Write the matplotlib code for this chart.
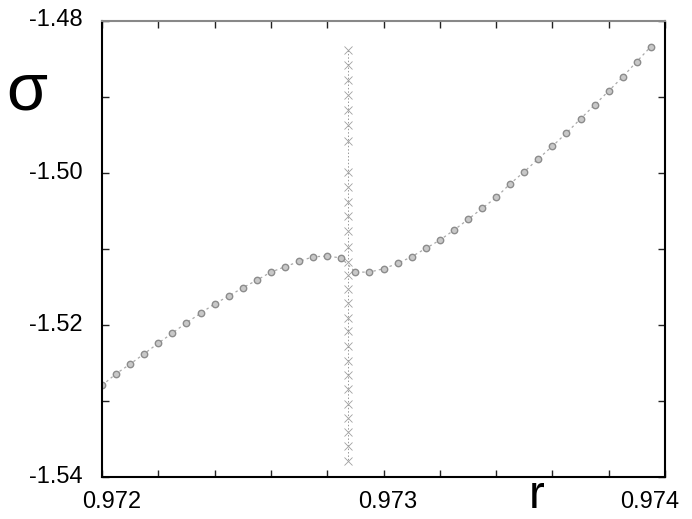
import numpy as np
import matplotlib
matplotlib.use("Agg")
import matplotlib.pyplot as plt
from matplotlib.transforms import ScaledTranslation

plt.rcParams['font.family'] = ['Liberation Sans', 'DejaVu Sans']

# stable branch: r values and sigma
r_circ = [0.97200, 0.97205, 0.97210, 0.97215, 0.97220, 0.97225, 0.97230, 0.97235,
          0.97240, 0.97245, 0.97250, 0.97255, 0.97260, 0.97265, 0.97270, 0.97275,
          0.97280, 0.97285, 0.97290, 0.97295, 0.97300, 0.97305, 0.97310, 0.97315,
          0.97320, 0.97325, 0.97330, 0.97335, 0.97340, 0.97345, 0.97350, 0.97355,
          0.97360, 0.97365, 0.97370, 0.97375, 0.97380, 0.97385, 0.97390, 0.97395]
s_circ = [-1.52796, -1.52643, -1.52516, -1.52380, -1.52241, -1.52109, -1.51972, -1.51850,
          -1.51723, -1.51623, -1.51513, -1.51413, -1.51307, -1.51237, -1.51167, -1.51105,
          -1.51097, -1.51121, -1.51307, -1.51307, -1.51263, -1.51193, -1.51105, -1.50996,
          -1.50887, -1.50756, -1.50615, -1.50470, -1.50326, -1.50146, -1.49988, -1.49817,
          -1.49652, -1.49478, -1.49292, -1.49110, -1.48926, -1.48740, -1.48539, -1.48342]

# vertical branch at fixed r
r_cross = 0.972875
s_cross = [-1.48394, -1.48585, -1.48782, -1.48976, -1.49170, -1.49380, -1.49583,
           -1.49993, -1.50185, -1.50388, -1.50576, -1.50769, -1.50974, -1.51180,
           -1.51351, -1.51535, -1.51719, -1.51909, -1.52087, -1.52280, -1.52474,
           -1.52658, -1.52849, -1.53046, -1.53223, -1.53414, -1.53598, -1.53788]

xticks_lab = [0.972, 0.973, 0.974]
yticks_lab = [-1.48, -1.50, -1.52, -1.54]

fig = plt.figure(figsize=(6.92, 5.19), dpi=100)
ax = fig.add_axes([102/692, 42/519, 563/692, 456.5/519])

ax.plot([r_cross]*len(s_cross), s_cross, linestyle=(0, (1.5, 2)), color='#999999',
        lw=0.7, marker='x', ms=6, mew=0.6, mec='#a0a0a0')
ax.plot(r_circ, s_circ, linestyle=(0, (2, 2.5)), color='#aaaaaa', lw=0.9,
        marker='o', ms=4.6, mew=1.0, mfc='#c8c8c8', mec='#8c8c8c')

ax.set_xlim(0.972, 0.974)
ax.set_ylim(-1.54, -1.48)
ax.set_xticks(np.arange(11) * 0.0002 + 0.972)
ax.set_xticklabels(['' for _ in range(11)])
ax.set_yticks(np.arange(7) * 0.01 - 1.54)
ax.set_yticklabels(['' for _ in range(7)])

ax.tick_params(direction='in', length=5, width=1, top=True, right=True,
               colors='#222222')
for s in ['left', 'bottom', 'right']:
    ax.spines[s].set_linewidth(1.5)
    ax.spines[s].set_color('black')
ax.spines['top'].set_linewidth(1.5)
ax.spines['top'].set_color('#888888')

# tick labels placed with small offsets as in the original
xoffs = [10, 4, -15]
for v, dx in zip(xticks_lab, xoffs):
    t = ax.get_xaxis_transform() + ScaledTranslation(dx/100, 0, fig.dpi_scale_trans)
    ax.text(v, -0.067, f"{v:.3f}", transform=t, ha='center', va='baseline', fontsize=17)
for v in yticks_lab:
    t = ax.get_yaxis_transform()
    ax.text(-0.034, v, f"{v:.2f}", transform=t, ha='right', va='center', fontsize=17)

fig.text(27/692, 1 - 110/519, 'σ', fontsize=48, ha='center', va='baseline')
fig.text(537/692, 1/519, 'r', fontsize=34, ha='center', va='bottom')

fig.savefig('out.png', dpi=100)
